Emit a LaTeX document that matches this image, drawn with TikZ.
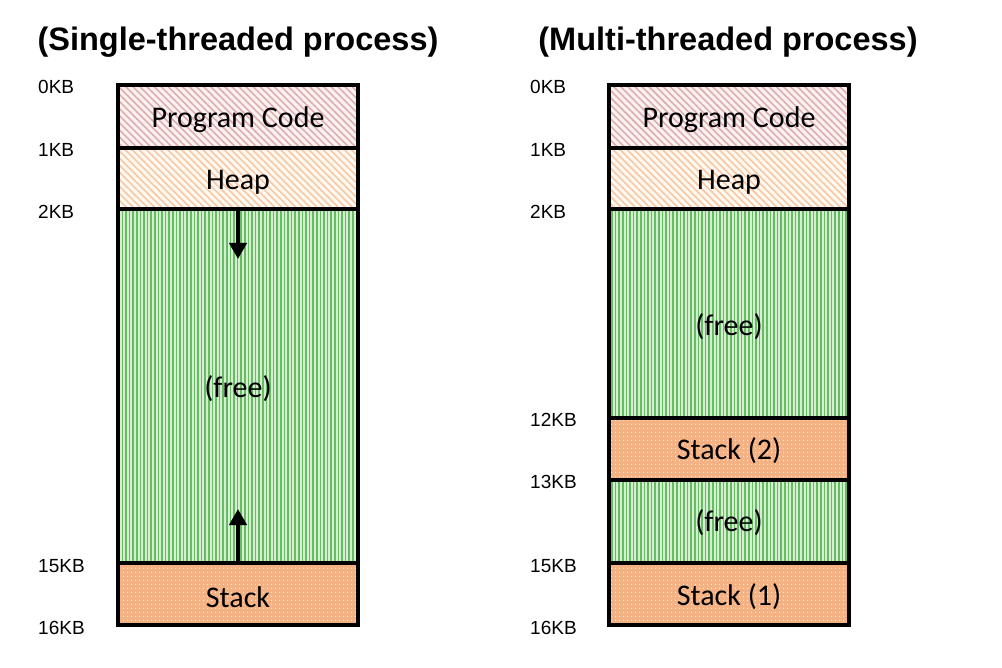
\documentclass[tikz,border=0pt]{standalone}
\usepackage{fontspec}
\setmainfont{Carlito}
\newfontfamily\arialf{Liberation Sans}
\usetikzlibrary{patterns.meta,arrows.meta}
\definecolor{pcbg}{HTML}{FBF1F1}
\definecolor{pcln}{HTML}{DDAEAE}
\definecolor{hpbg}{HTML}{FFF8F0}
\definecolor{hpln}{HTML}{F6C8A6}
\definecolor{frbg}{HTML}{D4EFCF}
\definecolor{frln}{HTML}{66BB63}
\definecolor{stbg}{HTML}{F4B183}
\begin{document}
\begin{tikzpicture}[x=1pt,y=-1pt,
  region/.style={draw=black,line width=3.5pt,rectangle,inner sep=0pt,outer sep=0pt,
    minimum width=240pt,anchor=north west},
  codebox/.style={region,preaction={fill=pcbg},pattern={Lines[angle=-45,distance=5pt,line width=1.6pt]},pattern color=pcln},
  heapbox/.style={region,preaction={fill=hpbg},pattern={Lines[angle=-45,distance=5pt,line width=1.6pt]},pattern color=hpln},
  freebox/.style={region,preaction={fill=frbg},pattern={Lines[angle=90,distance=3.6pt,line width=1.7pt]},pattern color=frln},
  stackbox/.style={region,preaction={fill=stbg},pattern={Dots[radius=0.8pt,distance=4pt]},pattern color=white!80!stbg},
  kb/.style={anchor=west,inner sep=0pt,font=\arialf\fontsize{19}{21}\selectfont},
  ttl/.style={inner sep=0pt,font=\arialf\bfseries\fontsize{32.5}{36}\selectfont},
  txt/.style={inner sep=0pt,font=\fontsize{30}{34}\selectfont},
  growarrow/.style={line width=4.5pt,-{Triangle[width=17pt,length=16pt]}}]
\useasboundingbox (0,0) rectangle (1002,668);
% titles
\node[ttl] (t1) at (238,42) {(Single-threaded process)};
\node[ttl] (t2) at (728,42) {(Multi-threaded process)};
% left column
\node[freebox,minimum height=354pt] (lfree) at (118,209) {};
\node[codebox,minimum height=63pt] (lcode) at (118,85) {};
\node[heapbox,minimum height=61pt] (lheap) at (118,148) {};
\node[stackbox,minimum height=62pt] (lstack) at (118,563) {};
\node[txt] (lcodet) at (238,120) {Program Code};
\node[txt] (lheapt) at (238,182) {Heap};
\node[txt] (lfreet) at (238,389) {(free)};
\node[txt] (lstackt) at (238,597) {Stack};
\coordinate (ldown) at (238,259);
\coordinate (lup) at (238,509);
\draw[growarrow] (lfree.north) -- (ldown);
\draw[growarrow] (lstack.north) -- (lup);
% left labels
\node[kb] (l0) at (38,87) {0KB};
\node[kb] (l1) at (38,150) {1KB};
\node[kb] (l2) at (38,212) {2KB};
\node[kb] (l15) at (38,566) {15KB};
\node[kb] (l16) at (38,628) {16KB};
% right column
\node[freebox,minimum height=209pt] (rfree) at (609,209) {};
\node[freebox,minimum height=83pt] (rfree2) at (609,480) {};
\node[codebox,minimum height=63pt] (rcode) at (609,85) {};
\node[heapbox,minimum height=61pt] (rheap) at (609,148) {};
\node[stackbox,minimum height=62pt] (rstack2) at (609,418) {};
\node[stackbox,minimum height=62pt] (rstack1) at (609,563) {};
\node[txt] (rcodet) at (729,120) {Program Code};
\node[txt] (rheapt) at (729,182) {Heap};
\node[txt] (rfreet) at (729,327) {(free)};
\node[txt] (rstack2t) at (729,451) {Stack (2)};
\node[txt] (rfree2t) at (729,523) {(free)};
\node[txt] (rstack1t) at (729,597) {Stack (1)};
% right labels
\node[kb] (r0) at (530,87) {0KB};
\node[kb] (r1) at (530,150) {1KB};
\node[kb] (r2) at (530,212) {2KB};
\node[kb] (r12) at (530,420) {12KB};
\node[kb] (r13) at (530,482) {13KB};
\node[kb] (r15) at (530,566) {15KB};
\node[kb] (r16) at (530,628) {16KB};
\end{tikzpicture}
\end{document}
